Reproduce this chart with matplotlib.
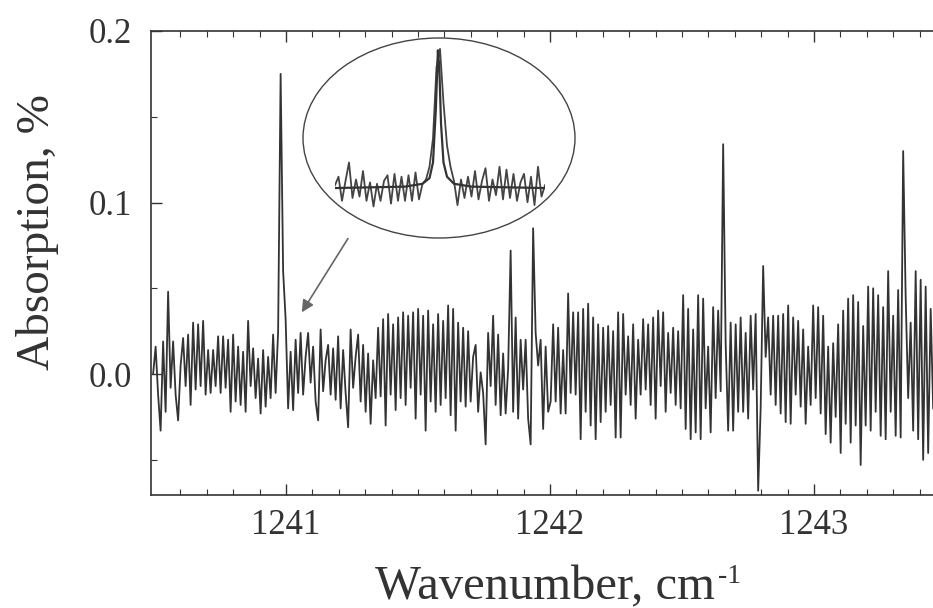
import numpy as np
import matplotlib.pyplot as plt
from matplotlib.patches import Ellipse

plt.rcParams['font.family'] = ['Liberation Serif', 'DejaVu Serif']

# spectrum, absorption in units of 0.001 %, uniform wavenumber grid
wn_start = 1240.497
wn_step = 0.00947
absorb_milli = [
    0, 16, -12, -33, 19, -22, 48, -8, 19, -12, -27, 5, 21, -7, 23, -18, 30, -9, 29, -7,
    31, -12, 14, -11, 14, -7, 22, -11, 22, -8, 20, -22, 23, -16, 16, -18, 13, -22, 31, -7,
    15, -14, 9, -23, 14, -19, 10, -14, 23, -11, 25, 175, 60, 32, -20, 13, -21, 20, -11, 24,
    -12, 10, 24, -5, 16, -16, -27, 26, -10, 8, 17, -12, 15, -15, 22, -20, 14, -11, -31, 26,
    -8, 10, 23, -16, 17, -22, 12, -29, 8, -14, 27, -13, 32, -30, 35, -12, 29, -21, 33, -14,
    36, -18, 34, -8, 36, -26, 38, -12, 34, -33, 37, -16, 29, -22, 35, -18, 31, -14, 40, -24,
    38, -33, 30, -16, 27, -19, 25, -16, 10, 17, -22, 1, -11, -41, 24, -7, 34, -18, 23, -24,
    12, -23, 3, 72, -22, 33, -26, 20, -9, 20, -26, -41, 85, 24, 5, 20, -32, 16, -22, -16,
    29, -16, 27, -23, 14, -23, 47, -11, 36, -12, 36, -38, 38, -22, 41, -30, 33, -38, 29, -28,
    27, -22, 28, -18, 25, -37, 36, -37, 35, -12, 22, -18, 29, -26, 20, -12, 32, -9, 29, -18,
    33, -26, 37, -7, 36, -22, 24, -11, 27, -18, 25, -20, 46, -32, 38, -38, 26, -34, 46, -38,
    44, -20, 16, -34, 39, -14, 37, -10, 134, 18, -33, 30, -33, 29, -22, 33, -22, 24, -26, 34,
    -9, 35, -68, -20, 63, 10, 33, -12, 34, -18, 34, -23, 35, -28, 40, -29, 33, -12, 31, -19,
    26, -29, 16, -18, 40, -14, 39, -23, 34, -35, 16, -40, 18, -25, 29, -46, 37, -29, 44, -40,
    46, -30, 42, -53, 28, -30, 51, -33, 50, -22, 46, -36, 39, -38, 60, -22, 34, -36, 49, -37,
    130, 45, -14, 30, -33, 60, -38, 55, -50, 51, -46, 38, -20,
]

# inset: the 1241 line, arbitrary units
inset_y = [
    0.02, 0.08, -0.09, 0.05, 0.18, -0.07, 0.06, -0.06, 0.12, -0.09,
    0.04, -0.13, 0.03, -0.09, 0.05, 0.09, -0.11, 0.10, -0.09, 0.08,
    -0.09, 0.09, -0.09, 0.11, -0.08, 0.03, 0.06, 0.15, 0.35, 0.85,
    0.98, 0.60, 0.30, 0.15, 0.05, -0.12, 0.06, -0.07, 0.08, -0.06,
    0.12, -0.08, 0.05, 0.14, -0.09, 0.06, -0.05, 0.15, -0.08, 0.13,
    -0.07, 0.10, -0.09, 0.04, 0.10, -0.10, 0.08, -0.12, 0.15, -0.06, 0.02,
]
fit_x = [0, 20, 25, 27, 28, 28.8, 29.4, 29.8, 30.3, 31, 32, 34, 39, 60]
fit_y = [0.0, 0.01, 0.03, 0.07, 0.18, 0.55, 0.97, 0.85, 0.45, 0.18, 0.08, 0.03, 0.01, 0.0]

wn = wn_start + wn_step * np.arange(len(absorb_milli))
absorb = np.array(absorb_milli) / 1000.0

fig = plt.figure(figsize=(9.33, 6.08), dpi=100)
ax = fig.add_axes([151 / 933, 113 / 608, 782 / 933, 464 / 608])
ax.plot(wn, absorb, color='#333333', lw=1.3)

ax.set_xlim(1240.489, 1243.451)
ax.set_ylim(-0.0705, 0.2)
ax.set_xticks([1241, 1242, 1243])
ax.set_xticks(np.arange(1240.6, 1243.45, 0.1), minor=True)
ax.set_yticks([0.0, 0.1, 0.2])
ax.set_yticks([-0.05, 0.05, 0.15], minor=True)
ax.set_yticklabels(['0.0', '0.1', '0.2'])
ax.spines['right'].set_visible(False)
for s in ['left', 'top', 'bottom']:
    ax.spines[s].set_linewidth(1.2)
    ax.spines[s].set_color('#333333')
ax.tick_params(which='both', direction='in', top=True, right=False, colors='#333333')
ax.tick_params(which='major', length=8, width=1.0, labelsize=25, labelcolor='#333333')
ax.tick_params(which='minor', length=4, width=0.8)
ax.tick_params(axis='y', pad=14)
ax.tick_params(axis='x', pad=10)

# axis titles, the -1 is a small raised hyphen as in the original
fig.text(375 / 933, 1 - 599 / 608, 'Wavenumber, cm', fontsize=35,
         ha='left', va='baseline', color='#333333')
fig.text(718 / 933, 1 - 583 / 608, '-1', fontsize=20,
         ha='left', va='baseline', color='#333333')
fig.text(38 / 933, 1 - 232 / 608, 'Absorption, %', fontsize=34, rotation=90,
         ha='center', va='center', color='#333333')

# arrow pointing at the line shown in the inset
ax.annotate('', xy=(1241.06, 0.036), xytext=(1241.235, 0.079),
            arrowprops=dict(arrowstyle='-|>', color='#666666', lw=1.2,
                            mutation_scale=18, shrinkA=0, shrinkB=0))

# inset with the ellipse
ell = Ellipse((439 / 933, 1 - 138 / 608), 272 / 933, 200 / 608,
              transform=fig.transFigure, fill=False, edgecolor='#444444', lw=1.0)
fig.patches.append(ell)
ins = fig.add_axes([335 / 933, 1 - 220 / 608, 210 / 933, 190 / 608])
ins.plot(np.arange(len(inset_y)), inset_y, color='#444444', lw=1.3)
ins.plot(fit_x, fit_y, color='#333333', lw=1.6)
ins.set_xlim(0, 60)
ins.set_ylim(-0.225, 1.113)
ins.axis('off')

fig.savefig('out.png', dpi=100)
